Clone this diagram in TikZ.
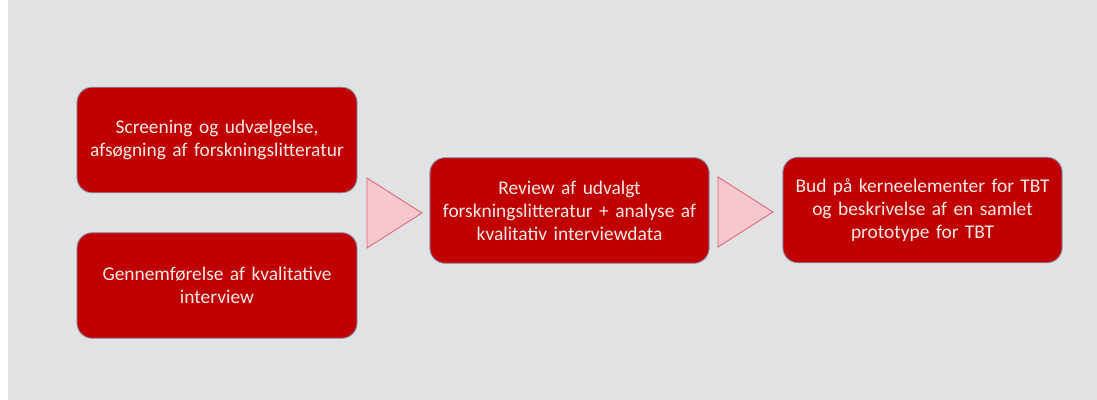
\documentclass[tikz,border=0pt]{standalone}
\usepackage{fontspec}
\setmainfont{Carlito}
\usetikzlibrary{positioning}
\definecolor{bggray}{HTML}{E1E2E4}
\definecolor{boxred}{HTML}{C00000}
\definecolor{boxline}{HTML}{8A9AB8}
\definecolor{arrowpink}{HTML}{F6C8CE}
\definecolor{arrowline}{HTML}{E06470}
\definecolor{txtpink}{HTML}{FBEAEA}

\tikzset{
  stepbox/.style={draw=boxline, line width=0.6pt, fill=boxred, rounded corners=0.38cm,
    minimum width=7cm, minimum height=2.64cm, text width=6.9cm, align=center,
    text=txtpink, font=\fontsize{13.8}{16.3}\selectfont, inner sep=0pt},
  chevron/.style={draw=arrowline, line width=0.6pt, fill=arrowpink, line join=miter}
}

\begin{document}
\begin{tikzpicture}[x=0.025cm,y=-0.025cm]
  \useasboundingbox (0,0) rectangle (1097,400);
  \fill[white] (0,0) rectangle (1097,400);
  \fill[bggray] (8,0) rectangle (1097,400);

  % left column
  \node[stepbox] (screen) at (217,140) {Screening og udvælgelse,\\afsøgning af forskningslitteratur};
  \node[stepbox] (interv) at (217,285.5) {Gennemførelse af kvalitative\\interview};

  % middle
  \node[stepbox, minimum width=6.98cm] (review) at (569.5,210.5) {Review af udvalgt\\forskningslitteratur + analyse af\\kvalitativ interviewdata};

  % right
  \node[stepbox, minimum width=6.98cm] (bud) at (922.5,210) {Bud på kerneelementer for TBT\\og beskrivelse af en samlet\\prototype for TBT};

  % chevrons
  \filldraw[chevron] (367,178) -- (422,213) -- (367,248) -- cycle;
  \filldraw[chevron] (718,177) -- (773,212) -- (718,247) -- cycle;
\end{tikzpicture}
\end{document}
